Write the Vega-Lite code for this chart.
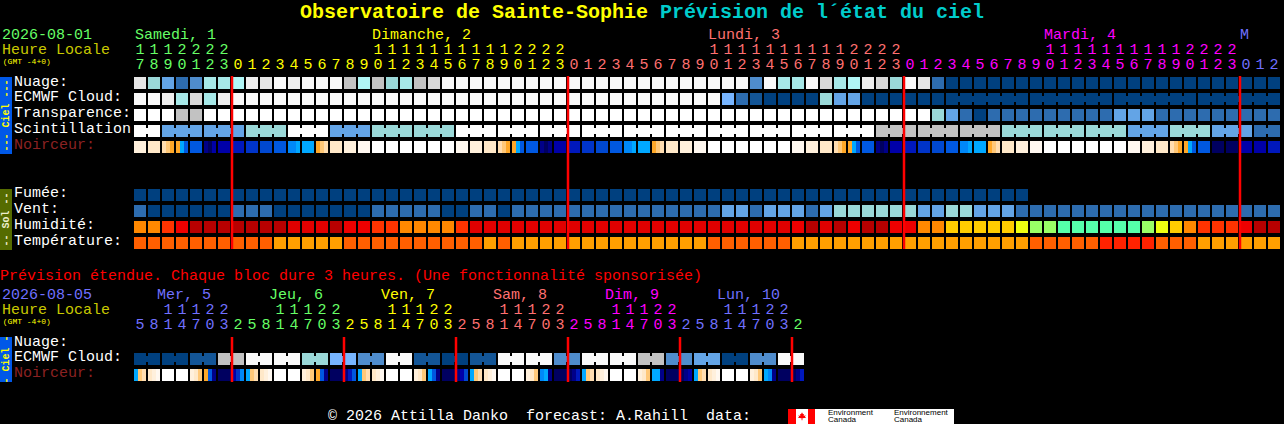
{"$schema":"https://vega.github.io/schema/vega-lite/v6.json","width":1284,"height":424,"autosize":{"type":"fit","contains":"padding"},"padding":0,"background":"#000000","view":{"stroke":null},"config":{"style":{"cell":{"stroke":null}}},
"datasets":{
"bands":[
{"col":-10,"colEnd":-9.143,"lane":-0.375,"laneEnd":4.4375,"lvl":"ciel"},
{"col":-10,"colEnd":-9.143,"lane":6.625,"laneEnd":10.4375,"lvl":"sol"},
{"col":-10,"colEnd":-9.143,"lane":15.875,"laneEnd":18.6875,"lvl":"ciel"},
{"col":46.286,"colEnd":58.143,"lane":20.375,"laneEnd":21.3125,"lvl":"n0"},
{"col":46.286,"colEnd":46.857,"lane":20.375,"laneEnd":21.3125,"lvl":"tE"},
{"col":47.714,"colEnd":48.214,"lane":20.375,"laneEnd":21.3125,"lvl":"tE"}],
"links":[
{"col":0,"colEnd":1,"lane":3,"lvl":"n0"},{"col":2,"colEnd":4,"lane":3,"lvl":"c9"},{"col":5,"colEnd":7,"lane":3,"lvl":"c9"},{"col":8,"colEnd":10,"lane":3,"lvl":"c7"},{"col":11,"colEnd":13,"lane":3,"lvl":"n0"},{"col":14,"colEnd":16,"lane":3,"lvl":"c9"},{"col":17,"colEnd":19,"lane":3,"lvl":"c7"},{"col":20,"colEnd":22,"lane":3,"lvl":"c7"},{"col":23,"colEnd":25,"lane":3,"lvl":"n0"},{"col":26,"colEnd":28,"lane":3,"lvl":"n0"},{"col":29,"colEnd":31,"lane":3,"lvl":"n0"},{"col":32,"colEnd":34,"lane":3,"lvl":"n0"},{"col":35,"colEnd":37,"lane":3,"lvl":"n0"},{"col":38,"colEnd":40,"lane":3,"lvl":"n0"},{"col":41,"colEnd":43,"lane":3,"lvl":"n0"},{"col":44,"colEnd":46,"lane":3,"lvl":"n0"},{"col":47,"colEnd":49,"lane":3,"lvl":"n0"},{"col":50,"colEnd":52,"lane":3,"lvl":"n0"},{"col":53,"colEnd":55,"lane":3,"lvl":"c4"},{"col":56,"colEnd":58,"lane":3,"lvl":"c4"},{"col":59,"colEnd":61,"lane":3,"lvl":"c4"},{"col":62,"colEnd":64,"lane":3,"lvl":"c7"},{"col":65,"colEnd":67,"lane":3,"lvl":"c7"},{"col":68,"colEnd":70,"lane":3,"lvl":"c7"},{"col":71,"colEnd":73,"lane":3,"lvl":"c9"},{"col":74,"colEnd":76,"lane":3,"lvl":"c7"},{"col":77,"colEnd":79,"lane":3,"lvl":"c9"},{"col":80,"colEnd":81,"lane":3,"lvl":"c11"},
{"col":58,"colEnd":63,"lane":1,"lvl":"c13"},{"col":64,"colEnd":69,"lane":1,"lvl":"c13"},{"col":70,"colEnd":75,"lane":1,"lvl":"c13"},{"col":76,"colEnd":81,"lane":1,"lvl":"c13"},
{"col":0,"colEnd":1,"lane":17.25,"lvl":"c13"},{"col":2,"colEnd":3,"lane":17.25,"lvl":"c13"},{"col":4,"colEnd":5,"lane":17.25,"lvl":"c12"},{"col":6,"colEnd":7,"lane":17.25,"lvl":"c4"},{"col":8,"colEnd":9,"lane":17.25,"lvl":"c0"},{"col":10,"colEnd":11,"lane":17.25,"lvl":"c0"},{"col":12,"colEnd":13,"lane":17.25,"lvl":"c7"},{"col":14,"colEnd":15,"lane":17.25,"lvl":"c8"},{"col":16,"colEnd":17,"lane":17.25,"lvl":"c10"},{"col":18,"colEnd":19,"lane":17.25,"lvl":"c0"},{"col":20,"colEnd":21,"lane":17.25,"lvl":"c12"},{"col":22,"colEnd":23,"lane":17.25,"lvl":"c13"},{"col":24,"colEnd":25,"lane":17.25,"lvl":"c12"},{"col":26,"colEnd":27,"lane":17.25,"lvl":"c0"},{"col":28,"colEnd":29,"lane":17.25,"lvl":"c0"},{"col":30,"colEnd":31,"lane":17.25,"lvl":"c10"},{"col":32,"colEnd":33,"lane":17.25,"lvl":"c0"},{"col":34,"colEnd":35,"lane":17.25,"lvl":"c0"},{"col":36,"colEnd":37,"lane":17.25,"lvl":"c4"},{"col":38,"colEnd":39,"lane":17.25,"lvl":"c10"},{"col":40,"colEnd":41,"lane":17.25,"lvl":"c9"},{"col":42,"colEnd":43,"lane":17.25,"lvl":"c13"},{"col":44,"colEnd":45,"lane":17.25,"lvl":"c10"},{"col":46,"colEnd":47,"lane":17.25,"lvl":"c0"}],
"cells":[
{"col":0,"lane":0,"lvl":"c2"},{"col":1,"lane":0,"lvl":"c7"},{"col":2,"lane":0,"lvl":"c9"},{"col":3,"lane":0,"lvl":"c11"},{"col":4,"lane":0,"lvl":"c10"},{"col":5,"lane":0,"lvl":"c6"},{"col":6,"lane":0,"lvl":"c6"},{"col":7,"lane":0,"lvl":"c5"},{"col":8,"lane":0,"lvl":"c1"},{"col":9,"lane":0,"lvl":"c2"},{"col":10,"lane":0,"lvl":"c0"},{"col":11,"lane":0,"lvl":"c1"},{"col":12,"lane":0,"lvl":"c0"},{"col":13,"lane":0,"lvl":"c0"},{"col":14,"lane":0,"lvl":"c0"},{"col":15,"lane":0,"lvl":"c4"},{"col":16,"lane":0,"lvl":"c5"},{"col":17,"lane":0,"lvl":"c4"},{"col":18,"lane":0,"lvl":"c7"},{"col":19,"lane":0,"lvl":"c6"},{"col":20,"lane":0,"lvl":"c4"},{"col":21,"lane":0,"lvl":"c3"},{"col":22,"lane":0,"lvl":"c0"},{"col":23,"lane":0,"lvl":"c0"},{"col":24,"lane":0,"lvl":"c0"},{"col":25,"lane":0,"lvl":"c0"},{"col":26,"lane":0,"lvl":"c0"},{"col":27,"lane":0,"lvl":"c0"},{"col":28,"lane":0,"lvl":"c0"},{"col":29,"lane":0,"lvl":"c0"},{"col":30,"lane":0,"lvl":"c0"},{"col":31,"lane":0,"lvl":"c0"},{"col":32,"lane":0,"lvl":"c0"},{"col":33,"lane":0,"lvl":"c0"},{"col":34,"lane":0,"lvl":"c0"},{"col":35,"lane":0,"lvl":"c0"},{"col":36,"lane":0,"lvl":"c0"},{"col":37,"lane":0,"lvl":"c0"},{"col":38,"lane":0,"lvl":"c0"},{"col":39,"lane":0,"lvl":"c0"},{"col":40,"lane":0,"lvl":"c0"},{"col":41,"lane":0,"lvl":"c0"},{"col":42,"lane":0,"lvl":"c0"},{"col":43,"lane":0,"lvl":"c0"},{"col":44,"lane":0,"lvl":"c10"},{"col":45,"lane":0,"lvl":"c0"},{"col":46,"lane":0,"lvl":"c6"},{"col":47,"lane":0,"lvl":"c6"},{"col":48,"lane":0,"lvl":"c0"},{"col":49,"lane":0,"lvl":"c3"},{"col":50,"lane":0,"lvl":"c6"},{"col":51,"lane":0,"lvl":"c5"},{"col":52,"lane":0,"lvl":"c1"},{"col":53,"lane":0,"lvl":"c3"},{"col":54,"lane":0,"lvl":"c7"},{"col":55,"lane":0,"lvl":"c0"},{"col":56,"lane":0,"lvl":"c2"},{"col":57,"lane":0,"lvl":"c11"},{"col":58,"lane":0,"lvl":"c13"},{"col":59,"lane":0,"lvl":"c13"},{"col":60,"lane":0,"lvl":"c13"},{"col":61,"lane":0,"lvl":"c13"},{"col":62,"lane":0,"lvl":"c13"},{"col":63,"lane":0,"lvl":"c13"},{"col":64,"lane":0,"lvl":"c13"},{"col":65,"lane":0,"lvl":"c13"},{"col":66,"lane":0,"lvl":"c13"},{"col":67,"lane":0,"lvl":"c13"},{"col":68,"lane":0,"lvl":"c13"},{"col":69,"lane":0,"lvl":"c13"},{"col":70,"lane":0,"lvl":"c13"},{"col":71,"lane":0,"lvl":"c13"},{"col":72,"lane":0,"lvl":"c13"},{"col":73,"lane":0,"lvl":"c13"},{"col":74,"lane":0,"lvl":"c13"},{"col":75,"lane":0,"lvl":"c13"},{"col":76,"lane":0,"lvl":"c13"},{"col":77,"lane":0,"lvl":"c13"},{"col":78,"lane":0,"lvl":"c13"},{"col":79,"lane":0,"lvl":"c13"},{"col":80,"lane":0,"lvl":"c13"},{"col":81,"lane":0,"lvl":"c13"},
{"col":0,"lane":1,"lvl":"c0"},{"col":1,"lane":1,"lvl":"c0"},{"col":2,"lane":1,"lvl":"c1"},{"col":3,"lane":1,"lvl":"c6"},{"col":4,"lane":1,"lvl":"c3"},{"col":5,"lane":1,"lvl":"c6"},{"col":6,"lane":1,"lvl":"c1"},{"col":7,"lane":1,"lvl":"c0"},{"col":8,"lane":1,"lvl":"c0"},{"col":9,"lane":1,"lvl":"c0"},{"col":10,"lane":1,"lvl":"c0"},{"col":11,"lane":1,"lvl":"c0"},{"col":12,"lane":1,"lvl":"c0"},{"col":13,"lane":1,"lvl":"c0"},{"col":14,"lane":1,"lvl":"c0"},{"col":15,"lane":1,"lvl":"c0"},{"col":16,"lane":1,"lvl":"c0"},{"col":17,"lane":1,"lvl":"c0"},{"col":18,"lane":1,"lvl":"c0"},{"col":19,"lane":1,"lvl":"c0"},{"col":20,"lane":1,"lvl":"c0"},{"col":21,"lane":1,"lvl":"c0"},{"col":22,"lane":1,"lvl":"c0"},{"col":23,"lane":1,"lvl":"c0"},{"col":24,"lane":1,"lvl":"c0"},{"col":25,"lane":1,"lvl":"c0"},{"col":26,"lane":1,"lvl":"c0"},{"col":27,"lane":1,"lvl":"c0"},{"col":28,"lane":1,"lvl":"c0"},{"col":29,"lane":1,"lvl":"c0"},{"col":30,"lane":1,"lvl":"c0"},{"col":31,"lane":1,"lvl":"c0"},{"col":32,"lane":1,"lvl":"c0"},{"col":33,"lane":1,"lvl":"c0"},{"col":34,"lane":1,"lvl":"c0"},{"col":35,"lane":1,"lvl":"c0"},{"col":36,"lane":1,"lvl":"c0"},{"col":37,"lane":1,"lvl":"c0"},{"col":38,"lane":1,"lvl":"c0"},{"col":39,"lane":1,"lvl":"c0"},{"col":40,"lane":1,"lvl":"c0"},{"col":41,"lane":1,"lvl":"c0"},{"col":42,"lane":1,"lvl":"c8"},{"col":43,"lane":1,"lvl":"c11"},{"col":44,"lane":1,"lvl":"c12"},{"col":45,"lane":1,"lvl":"c13"},{"col":46,"lane":1,"lvl":"c13"},{"col":47,"lane":1,"lvl":"c13"},{"col":48,"lane":1,"lvl":"c13"},{"col":49,"lane":1,"lvl":"c7"},{"col":50,"lane":1,"lvl":"c9"},{"col":51,"lane":1,"lvl":"c9"},{"col":52,"lane":1,"lvl":"c13"},{"col":53,"lane":1,"lvl":"c13"},{"col":54,"lane":1,"lvl":"c13"},{"col":55,"lane":1,"lvl":"c13"},{"col":56,"lane":1,"lvl":"c13"},{"col":57,"lane":1,"lvl":"c13"},{"col":58,"lane":1,"lvl":"c13"},{"col":59,"lane":1,"lvl":"c13"},{"col":60,"lane":1,"lvl":"c13"},{"col":61,"lane":1,"lvl":"c13"},{"col":62,"lane":1,"lvl":"c13"},{"col":63,"lane":1,"lvl":"c13"},{"col":64,"lane":1,"lvl":"c13"},{"col":65,"lane":1,"lvl":"c13"},{"col":66,"lane":1,"lvl":"c13"},{"col":67,"lane":1,"lvl":"c13"},{"col":68,"lane":1,"lvl":"c13"},{"col":69,"lane":1,"lvl":"c13"},{"col":70,"lane":1,"lvl":"c13"},{"col":71,"lane":1,"lvl":"c13"},{"col":72,"lane":1,"lvl":"c13"},{"col":73,"lane":1,"lvl":"c13"},{"col":74,"lane":1,"lvl":"c13"},{"col":75,"lane":1,"lvl":"c13"},{"col":76,"lane":1,"lvl":"c13"},{"col":77,"lane":1,"lvl":"c13"},{"col":78,"lane":1,"lvl":"c13"},{"col":79,"lane":1,"lvl":"c13"},{"col":80,"lane":1,"lvl":"c13"},{"col":81,"lane":1,"lvl":"c13"},
{"col":0,"lane":2,"lvl":"n0"},{"col":1,"lane":2,"lvl":"n0"},{"col":2,"lane":2,"lvl":"n0"},{"col":3,"lane":2,"lvl":"c4"},{"col":4,"lane":2,"lvl":"c4"},{"col":5,"lane":2,"lvl":"n0"},{"col":6,"lane":2,"lvl":"n0"},{"col":7,"lane":2,"lvl":"n0"},{"col":8,"lane":2,"lvl":"n0"},{"col":9,"lane":2,"lvl":"n0"},{"col":10,"lane":2,"lvl":"n0"},{"col":11,"lane":2,"lvl":"n0"},{"col":12,"lane":2,"lvl":"n0"},{"col":13,"lane":2,"lvl":"n0"},{"col":14,"lane":2,"lvl":"n0"},{"col":15,"lane":2,"lvl":"n0"},{"col":16,"lane":2,"lvl":"n0"},{"col":17,"lane":2,"lvl":"n0"},{"col":18,"lane":2,"lvl":"n0"},{"col":19,"lane":2,"lvl":"n0"},{"col":20,"lane":2,"lvl":"n0"},{"col":21,"lane":2,"lvl":"n0"},{"col":22,"lane":2,"lvl":"n0"},{"col":23,"lane":2,"lvl":"n0"},{"col":24,"lane":2,"lvl":"n0"},{"col":25,"lane":2,"lvl":"n0"},{"col":26,"lane":2,"lvl":"n0"},{"col":27,"lane":2,"lvl":"n0"},{"col":28,"lane":2,"lvl":"n0"},{"col":29,"lane":2,"lvl":"n0"},{"col":30,"lane":2,"lvl":"n0"},{"col":31,"lane":2,"lvl":"n0"},{"col":32,"lane":2,"lvl":"n0"},{"col":33,"lane":2,"lvl":"n0"},{"col":34,"lane":2,"lvl":"n0"},{"col":35,"lane":2,"lvl":"n0"},{"col":36,"lane":2,"lvl":"n0"},{"col":37,"lane":2,"lvl":"n0"},{"col":38,"lane":2,"lvl":"n0"},{"col":39,"lane":2,"lvl":"n0"},{"col":40,"lane":2,"lvl":"n0"},{"col":41,"lane":2,"lvl":"n0"},{"col":42,"lane":2,"lvl":"n0"},{"col":43,"lane":2,"lvl":"n0"},{"col":44,"lane":2,"lvl":"n0"},{"col":45,"lane":2,"lvl":"n0"},{"col":46,"lane":2,"lvl":"n0"},{"col":47,"lane":2,"lvl":"n0"},{"col":48,"lane":2,"lvl":"n0"},{"col":49,"lane":2,"lvl":"n0"},{"col":50,"lane":2,"lvl":"n0"},{"col":51,"lane":2,"lvl":"n0"},{"col":52,"lane":2,"lvl":"n0"},{"col":53,"lane":2,"lvl":"n0"},{"col":54,"lane":2,"lvl":"n0"},{"col":55,"lane":2,"lvl":"n0"},{"col":56,"lane":2,"lvl":"n0"},{"col":57,"lane":2,"lvl":"c7"},{"col":58,"lane":2,"lvl":"c9"},{"col":59,"lane":2,"lvl":"c11"},{"col":60,"lane":2,"lvl":"c13"},{"col":61,"lane":2,"lvl":"c11"},{"col":62,"lane":2,"lvl":"c11"},{"col":63,"lane":2,"lvl":"c11"},{"col":64,"lane":2,"lvl":"c11"},{"col":65,"lane":2,"lvl":"c11"},{"col":66,"lane":2,"lvl":"c11"},{"col":67,"lane":2,"lvl":"c11"},{"col":68,"lane":2,"lvl":"c11"},{"col":69,"lane":2,"lvl":"c11"},{"col":70,"lane":2,"lvl":"c9"},{"col":71,"lane":2,"lvl":"c9"},{"col":72,"lane":2,"lvl":"c9"},{"col":73,"lane":2,"lvl":"c11"},{"col":74,"lane":2,"lvl":"c11"},{"col":75,"lane":2,"lvl":"c11"},{"col":76,"lane":2,"lvl":"c11"},{"col":77,"lane":2,"lvl":"c11"},{"col":78,"lane":2,"lvl":"c11"},{"col":79,"lane":2,"lvl":"c11"},{"col":80,"lane":2,"lvl":"c11"},{"col":81,"lane":2,"lvl":"c11"},
{"col":0,"lane":3,"lvl":"n0"},{"col":1,"lane":3,"lvl":"n0"},{"col":2,"lane":3,"lvl":"c9"},{"col":3,"lane":3,"lvl":"c9"},{"col":4,"lane":3,"lvl":"c9"},{"col":5,"lane":3,"lvl":"c9"},{"col":6,"lane":3,"lvl":"c9"},{"col":7,"lane":3,"lvl":"c9"},{"col":8,"lane":3,"lvl":"c7"},{"col":9,"lane":3,"lvl":"c7"},{"col":10,"lane":3,"lvl":"c7"},{"col":11,"lane":3,"lvl":"n0"},{"col":12,"lane":3,"lvl":"n0"},{"col":13,"lane":3,"lvl":"n0"},{"col":14,"lane":3,"lvl":"c9"},{"col":15,"lane":3,"lvl":"c9"},{"col":16,"lane":3,"lvl":"c9"},{"col":17,"lane":3,"lvl":"c7"},{"col":18,"lane":3,"lvl":"c7"},{"col":19,"lane":3,"lvl":"c7"},{"col":20,"lane":3,"lvl":"c7"},{"col":21,"lane":3,"lvl":"c7"},{"col":22,"lane":3,"lvl":"c7"},{"col":23,"lane":3,"lvl":"n0"},{"col":24,"lane":3,"lvl":"n0"},{"col":25,"lane":3,"lvl":"n0"},{"col":26,"lane":3,"lvl":"n0"},{"col":27,"lane":3,"lvl":"n0"},{"col":28,"lane":3,"lvl":"n0"},{"col":29,"lane":3,"lvl":"n0"},{"col":30,"lane":3,"lvl":"n0"},{"col":31,"lane":3,"lvl":"n0"},{"col":32,"lane":3,"lvl":"n0"},{"col":33,"lane":3,"lvl":"n0"},{"col":34,"lane":3,"lvl":"n0"},{"col":35,"lane":3,"lvl":"n0"},{"col":36,"lane":3,"lvl":"n0"},{"col":37,"lane":3,"lvl":"n0"},{"col":38,"lane":3,"lvl":"n0"},{"col":39,"lane":3,"lvl":"n0"},{"col":40,"lane":3,"lvl":"n0"},{"col":41,"lane":3,"lvl":"n0"},{"col":42,"lane":3,"lvl":"n0"},{"col":43,"lane":3,"lvl":"n0"},{"col":44,"lane":3,"lvl":"n0"},{"col":45,"lane":3,"lvl":"n0"},{"col":46,"lane":3,"lvl":"n0"},{"col":47,"lane":3,"lvl":"n0"},{"col":48,"lane":3,"lvl":"n0"},{"col":49,"lane":3,"lvl":"n0"},{"col":50,"lane":3,"lvl":"n0"},{"col":51,"lane":3,"lvl":"n0"},{"col":52,"lane":3,"lvl":"n0"},{"col":53,"lane":3,"lvl":"c4"},{"col":54,"lane":3,"lvl":"c4"},{"col":55,"lane":3,"lvl":"c4"},{"col":56,"lane":3,"lvl":"c4"},{"col":57,"lane":3,"lvl":"c4"},{"col":58,"lane":3,"lvl":"c4"},{"col":59,"lane":3,"lvl":"c4"},{"col":60,"lane":3,"lvl":"c4"},{"col":61,"lane":3,"lvl":"c4"},{"col":62,"lane":3,"lvl":"c7"},{"col":63,"lane":3,"lvl":"c7"},{"col":64,"lane":3,"lvl":"c7"},{"col":65,"lane":3,"lvl":"c7"},{"col":66,"lane":3,"lvl":"c7"},{"col":67,"lane":3,"lvl":"c7"},{"col":68,"lane":3,"lvl":"c7"},{"col":69,"lane":3,"lvl":"c7"},{"col":70,"lane":3,"lvl":"c7"},{"col":71,"lane":3,"lvl":"c9"},{"col":72,"lane":3,"lvl":"c9"},{"col":73,"lane":3,"lvl":"c9"},{"col":74,"lane":3,"lvl":"c7"},{"col":75,"lane":3,"lvl":"c7"},{"col":76,"lane":3,"lvl":"c7"},{"col":77,"lane":3,"lvl":"c9"},{"col":78,"lane":3,"lvl":"c9"},{"col":79,"lane":3,"lvl":"c9"},{"col":80,"lane":3,"lvl":"c11"},{"col":81,"lane":3,"lvl":"c11"},
{"col":0,"lane":4,"lvl":"n2"},{"col":1,"lane":4,"lvl":"n3"},{"col":4,"lane":4,"lvl":"n10"},{"col":6,"lane":4,"lvl":"n14"},{"col":7,"lane":4,"lvl":"n13"},{"col":8,"lane":4,"lvl":"n12"},{"col":9,"lane":4,"lvl":"n11"},{"col":10,"lane":4,"lvl":"n10"},{"col":12,"lane":4,"lvl":"n8"},{"col":14,"lane":4,"lvl":"n3"},{"col":15,"lane":4,"lvl":"n2"},{"col":16,"lane":4,"lvl":"n1"},{"col":17,"lane":4,"lvl":"n0"},{"col":18,"lane":4,"lvl":"n0"},{"col":19,"lane":4,"lvl":"n0"},{"col":20,"lane":4,"lvl":"n0"},{"col":21,"lane":4,"lvl":"n0"},{"col":22,"lane":4,"lvl":"n0"},{"col":23,"lane":4,"lvl":"n1"},{"col":24,"lane":4,"lvl":"n2"},{"col":25,"lane":4,"lvl":"n3"},{"col":28,"lane":4,"lvl":"n10"},{"col":30,"lane":4,"lvl":"n14"},{"col":31,"lane":4,"lvl":"n13"},{"col":32,"lane":4,"lvl":"n12"},{"col":33,"lane":4,"lvl":"n11"},{"col":34,"lane":4,"lvl":"n10"},{"col":36,"lane":4,"lvl":"n8"},{"col":38,"lane":4,"lvl":"n3"},{"col":39,"lane":4,"lvl":"n2"},{"col":40,"lane":4,"lvl":"n1"},{"col":41,"lane":4,"lvl":"n0"},{"col":42,"lane":4,"lvl":"n0"},{"col":43,"lane":4,"lvl":"n0"},{"col":44,"lane":4,"lvl":"n0"},{"col":45,"lane":4,"lvl":"n0"},{"col":46,"lane":4,"lvl":"n0"},{"col":47,"lane":4,"lvl":"n1"},{"col":48,"lane":4,"lvl":"n2"},{"col":49,"lane":4,"lvl":"n3"},{"col":52,"lane":4,"lvl":"n10"},{"col":54,"lane":4,"lvl":"n14"},{"col":55,"lane":4,"lvl":"n13"},{"col":56,"lane":4,"lvl":"n12"},{"col":57,"lane":4,"lvl":"n11"},{"col":58,"lane":4,"lvl":"n10"},{"col":60,"lane":4,"lvl":"n8"},{"col":62,"lane":4,"lvl":"n3"},{"col":63,"lane":4,"lvl":"n2"},{"col":64,"lane":4,"lvl":"n1"},{"col":65,"lane":4,"lvl":"n0"},{"col":66,"lane":4,"lvl":"n0"},{"col":67,"lane":4,"lvl":"n0"},{"col":68,"lane":4,"lvl":"n0"},{"col":69,"lane":4,"lvl":"n0"},{"col":70,"lane":4,"lvl":"n0"},{"col":71,"lane":4,"lvl":"n1"},{"col":72,"lane":4,"lvl":"n2"},{"col":73,"lane":4,"lvl":"n3"},{"col":76,"lane":4,"lvl":"n10"},{"col":77,"lane":4,"lvl":"n16"},{"col":78,"lane":4,"lvl":"n16"},{"col":79,"lane":4,"lvl":"n14"},{"col":80,"lane":4,"lvl":"n14"},{"col":81,"lane":4,"lvl":"n13"},
{"col":0,"lane":7,"lvl":"c13"},{"col":1,"lane":7,"lvl":"c13"},{"col":2,"lane":7,"lvl":"c13"},{"col":3,"lane":7,"lvl":"c13"},{"col":4,"lane":7,"lvl":"c13"},{"col":5,"lane":7,"lvl":"c13"},{"col":6,"lane":7,"lvl":"c13"},{"col":7,"lane":7,"lvl":"c13"},{"col":8,"lane":7,"lvl":"c13"},{"col":9,"lane":7,"lvl":"c13"},{"col":10,"lane":7,"lvl":"c13"},{"col":11,"lane":7,"lvl":"c13"},{"col":12,"lane":7,"lvl":"c13"},{"col":13,"lane":7,"lvl":"c13"},{"col":14,"lane":7,"lvl":"c13"},{"col":15,"lane":7,"lvl":"c13"},{"col":16,"lane":7,"lvl":"c13"},{"col":17,"lane":7,"lvl":"c13"},{"col":18,"lane":7,"lvl":"c13"},{"col":19,"lane":7,"lvl":"c13"},{"col":20,"lane":7,"lvl":"c13"},{"col":21,"lane":7,"lvl":"c13"},{"col":22,"lane":7,"lvl":"c13"},{"col":23,"lane":7,"lvl":"c13"},{"col":24,"lane":7,"lvl":"c13"},{"col":25,"lane":7,"lvl":"c13"},{"col":26,"lane":7,"lvl":"c13"},{"col":27,"lane":7,"lvl":"c13"},{"col":28,"lane":7,"lvl":"c13"},{"col":29,"lane":7,"lvl":"c13"},{"col":30,"lane":7,"lvl":"c13"},{"col":31,"lane":7,"lvl":"c13"},{"col":32,"lane":7,"lvl":"c13"},{"col":33,"lane":7,"lvl":"c13"},{"col":34,"lane":7,"lvl":"c13"},{"col":35,"lane":7,"lvl":"c13"},{"col":36,"lane":7,"lvl":"c13"},{"col":37,"lane":7,"lvl":"c13"},{"col":38,"lane":7,"lvl":"c13"},{"col":39,"lane":7,"lvl":"c13"},{"col":40,"lane":7,"lvl":"c13"},{"col":41,"lane":7,"lvl":"c13"},{"col":42,"lane":7,"lvl":"c13"},{"col":43,"lane":7,"lvl":"c13"},{"col":44,"lane":7,"lvl":"c13"},{"col":45,"lane":7,"lvl":"c13"},{"col":46,"lane":7,"lvl":"c13"},{"col":47,"lane":7,"lvl":"c13"},{"col":48,"lane":7,"lvl":"c13"},{"col":49,"lane":7,"lvl":"c13"},{"col":50,"lane":7,"lvl":"c13"},{"col":51,"lane":7,"lvl":"c13"},{"col":52,"lane":7,"lvl":"c13"},{"col":53,"lane":7,"lvl":"c13"},{"col":54,"lane":7,"lvl":"c13"},{"col":55,"lane":7,"lvl":"c13"},{"col":56,"lane":7,"lvl":"c13"},{"col":57,"lane":7,"lvl":"c13"},{"col":58,"lane":7,"lvl":"c13"},{"col":59,"lane":7,"lvl":"c13"},{"col":60,"lane":7,"lvl":"c13"},{"col":61,"lane":7,"lvl":"c13"},{"col":62,"lane":7,"lvl":"c13"},{"col":63,"lane":7,"lvl":"c13"},
{"col":0,"lane":8,"lvl":"c11"},{"col":1,"lane":8,"lvl":"c13"},{"col":2,"lane":8,"lvl":"c13"},{"col":3,"lane":8,"lvl":"c13"},{"col":4,"lane":8,"lvl":"c13"},{"col":5,"lane":8,"lvl":"c13"},{"col":6,"lane":8,"lvl":"c13"},{"col":7,"lane":8,"lvl":"c11"},{"col":8,"lane":8,"lvl":"c11"},{"col":9,"lane":8,"lvl":"c11"},{"col":10,"lane":8,"lvl":"c13"},{"col":11,"lane":8,"lvl":"c13"},{"col":12,"lane":8,"lvl":"c13"},{"col":13,"lane":8,"lvl":"c13"},{"col":14,"lane":8,"lvl":"c13"},{"col":15,"lane":8,"lvl":"c13"},{"col":16,"lane":8,"lvl":"c13"},{"col":17,"lane":8,"lvl":"c11"},{"col":18,"lane":8,"lvl":"c11"},{"col":19,"lane":8,"lvl":"c11"},{"col":20,"lane":8,"lvl":"c11"},{"col":21,"lane":8,"lvl":"c11"},{"col":22,"lane":8,"lvl":"c13"},{"col":23,"lane":8,"lvl":"c13"},{"col":24,"lane":8,"lvl":"c11"},{"col":25,"lane":8,"lvl":"c11"},{"col":26,"lane":8,"lvl":"c13"},{"col":27,"lane":8,"lvl":"c11"},{"col":28,"lane":8,"lvl":"c11"},{"col":29,"lane":8,"lvl":"c11"},{"col":30,"lane":8,"lvl":"c11"},{"col":31,"lane":8,"lvl":"c11"},{"col":32,"lane":8,"lvl":"c11"},{"col":33,"lane":8,"lvl":"c11"},{"col":34,"lane":8,"lvl":"c11"},{"col":35,"lane":8,"lvl":"c11"},{"col":36,"lane":8,"lvl":"c11"},{"col":37,"lane":8,"lvl":"c11"},{"col":38,"lane":8,"lvl":"c11"},{"col":39,"lane":8,"lvl":"c11"},{"col":40,"lane":8,"lvl":"c11"},{"col":41,"lane":8,"lvl":"c11"},{"col":42,"lane":8,"lvl":"c9"},{"col":43,"lane":8,"lvl":"c9"},{"col":44,"lane":8,"lvl":"c11"},{"col":45,"lane":8,"lvl":"c9"},{"col":46,"lane":8,"lvl":"c9"},{"col":47,"lane":8,"lvl":"c9"},{"col":48,"lane":8,"lvl":"c11"},{"col":49,"lane":8,"lvl":"c9"},{"col":50,"lane":8,"lvl":"c7"},{"col":51,"lane":8,"lvl":"c7"},{"col":52,"lane":8,"lvl":"c7"},{"col":53,"lane":8,"lvl":"c7"},{"col":54,"lane":8,"lvl":"c7"},{"col":55,"lane":8,"lvl":"c7"},{"col":56,"lane":8,"lvl":"c9"},{"col":57,"lane":8,"lvl":"c9"},{"col":58,"lane":8,"lvl":"c7"},{"col":59,"lane":8,"lvl":"c7"},{"col":60,"lane":8,"lvl":"c9"},{"col":61,"lane":8,"lvl":"c9"},{"col":62,"lane":8,"lvl":"c9"},{"col":63,"lane":8,"lvl":"c11"},{"col":64,"lane":8,"lvl":"c11"},{"col":65,"lane":8,"lvl":"c11"},{"col":66,"lane":8,"lvl":"c11"},{"col":67,"lane":8,"lvl":"c11"},{"col":68,"lane":8,"lvl":"c11"},{"col":69,"lane":8,"lvl":"c11"},{"col":70,"lane":8,"lvl":"c11"},{"col":71,"lane":8,"lvl":"c11"},{"col":72,"lane":8,"lvl":"c11"},{"col":73,"lane":8,"lvl":"c11"},{"col":74,"lane":8,"lvl":"c11"},{"col":75,"lane":8,"lvl":"c11"},{"col":76,"lane":8,"lvl":"c11"},{"col":77,"lane":8,"lvl":"c11"},{"col":78,"lane":8,"lvl":"c11"},{"col":79,"lane":8,"lvl":"c11"},{"col":80,"lane":8,"lvl":"c11"},{"col":81,"lane":8,"lvl":"c11"},
{"col":0,"lane":9,"lvl":"h1"},{"col":1,"lane":9,"lvl":"h1"},{"col":2,"lane":9,"lvl":"h2"},{"col":3,"lane":9,"lvl":"h3"},{"col":4,"lane":9,"lvl":"h5"},{"col":5,"lane":9,"lvl":"h5"},{"col":6,"lane":9,"lvl":"h5"},{"col":7,"lane":9,"lvl":"h5"},{"col":8,"lane":9,"lvl":"h5"},{"col":9,"lane":9,"lvl":"h5"},{"col":10,"lane":9,"lvl":"h5"},{"col":11,"lane":9,"lvl":"h4"},{"col":12,"lane":9,"lvl":"h4"},{"col":13,"lane":9,"lvl":"h4"},{"col":14,"lane":9,"lvl":"h5"},{"col":15,"lane":9,"lvl":"h3"},{"col":16,"lane":9,"lvl":"h3"},{"col":17,"lane":9,"lvl":"h2"},{"col":18,"lane":9,"lvl":"h2"},{"col":19,"lane":9,"lvl":"h1"},{"col":20,"lane":9,"lvl":"h1"},{"col":21,"lane":9,"lvl":"h1"},{"col":22,"lane":9,"lvl":"h1"},{"col":23,"lane":9,"lvl":"h2"},{"col":24,"lane":9,"lvl":"h4"},{"col":25,"lane":9,"lvl":"h4"},{"col":26,"lane":9,"lvl":"h4"},{"col":27,"lane":9,"lvl":"h4"},{"col":28,"lane":9,"lvl":"h4"},{"col":29,"lane":9,"lvl":"h4"},{"col":30,"lane":9,"lvl":"h4"},{"col":31,"lane":9,"lvl":"h4"},{"col":32,"lane":9,"lvl":"h4"},{"col":33,"lane":9,"lvl":"h4"},{"col":34,"lane":9,"lvl":"h4"},{"col":35,"lane":9,"lvl":"h4"},{"col":36,"lane":9,"lvl":"h4"},{"col":37,"lane":9,"lvl":"h4"},{"col":38,"lane":9,"lvl":"h4"},{"col":39,"lane":9,"lvl":"h4"},{"col":40,"lane":9,"lvl":"h4"},{"col":41,"lane":9,"lvl":"h4"},{"col":42,"lane":9,"lvl":"h4"},{"col":43,"lane":9,"lvl":"h4"},{"col":44,"lane":9,"lvl":"h4"},{"col":45,"lane":9,"lvl":"h4"},{"col":46,"lane":9,"lvl":"h4"},{"col":47,"lane":9,"lvl":"h3"},{"col":48,"lane":9,"lvl":"h5"},{"col":49,"lane":9,"lvl":"h4"},{"col":50,"lane":9,"lvl":"h5"},{"col":51,"lane":9,"lvl":"h3"},{"col":52,"lane":9,"lvl":"h5"},{"col":53,"lane":9,"lvl":"h5"},{"col":54,"lane":9,"lvl":"h3"},{"col":55,"lane":9,"lvl":"h3"},{"col":56,"lane":9,"lvl":"h1"},{"col":57,"lane":9,"lvl":"h1"},{"col":58,"lane":9,"lvl":"h6"},{"col":59,"lane":9,"lvl":"h6"},{"col":60,"lane":9,"lvl":"h6"},{"col":61,"lane":9,"lvl":"h6"},{"col":62,"lane":9,"lvl":"h6"},{"col":63,"lane":9,"lvl":"h7"},{"col":64,"lane":9,"lvl":"h8"},{"col":65,"lane":9,"lvl":"h8"},{"col":66,"lane":9,"lvl":"h9"},{"col":67,"lane":9,"lvl":"h9"},{"col":68,"lane":9,"lvl":"h9"},{"col":69,"lane":9,"lvl":"h9"},{"col":70,"lane":9,"lvl":"h9"},{"col":71,"lane":9,"lvl":"h9"},{"col":72,"lane":9,"lvl":"h8"},{"col":73,"lane":9,"lvl":"h7"},{"col":74,"lane":9,"lvl":"h6"},{"col":75,"lane":9,"lvl":"h1"},{"col":76,"lane":9,"lvl":"h2"},{"col":77,"lane":9,"lvl":"h2"},{"col":78,"lane":9,"lvl":"h2"},{"col":79,"lane":9,"lvl":"h3"},{"col":80,"lane":9,"lvl":"h5"},{"col":81,"lane":9,"lvl":"h5"},
{"col":0,"lane":10,"lvl":"p1"},{"col":1,"lane":10,"lvl":"p1"},{"col":2,"lane":10,"lvl":"p1"},{"col":3,"lane":10,"lvl":"p1"},{"col":4,"lane":10,"lvl":"p1"},{"col":5,"lane":10,"lvl":"p1"},{"col":6,"lane":10,"lvl":"p1"},{"col":7,"lane":10,"lvl":"p1"},{"col":8,"lane":10,"lvl":"p1"},{"col":9,"lane":10,"lvl":"p1"},{"col":10,"lane":10,"lvl":"p2"},{"col":11,"lane":10,"lvl":"p2"},{"col":12,"lane":10,"lvl":"p2"},{"col":13,"lane":10,"lvl":"p2"},{"col":14,"lane":10,"lvl":"p2"},{"col":15,"lane":10,"lvl":"p1"},{"col":16,"lane":10,"lvl":"p1"},{"col":17,"lane":10,"lvl":"p1"},{"col":18,"lane":10,"lvl":"p1"},{"col":19,"lane":10,"lvl":"p1"},{"col":20,"lane":10,"lvl":"p1"},{"col":21,"lane":10,"lvl":"p1"},{"col":22,"lane":10,"lvl":"p1"},{"col":23,"lane":10,"lvl":"p1"},{"col":24,"lane":10,"lvl":"p1"},{"col":25,"lane":10,"lvl":"p2"},{"col":26,"lane":10,"lvl":"p1"},{"col":27,"lane":10,"lvl":"p2"},{"col":28,"lane":10,"lvl":"p2"},{"col":29,"lane":10,"lvl":"p2"},{"col":30,"lane":10,"lvl":"p2"},{"col":31,"lane":10,"lvl":"p2"},{"col":32,"lane":10,"lvl":"p2"},{"col":33,"lane":10,"lvl":"p2"},{"col":34,"lane":10,"lvl":"p2"},{"col":35,"lane":10,"lvl":"p2"},{"col":36,"lane":10,"lvl":"p2"},{"col":37,"lane":10,"lvl":"p2"},{"col":38,"lane":10,"lvl":"p2"},{"col":39,"lane":10,"lvl":"p2"},{"col":40,"lane":10,"lvl":"p2"},{"col":41,"lane":10,"lvl":"p1"},{"col":42,"lane":10,"lvl":"p1"},{"col":43,"lane":10,"lvl":"p1"},{"col":44,"lane":10,"lvl":"p1"},{"col":45,"lane":10,"lvl":"p1"},{"col":46,"lane":10,"lvl":"p1"},{"col":47,"lane":10,"lvl":"p2"},{"col":48,"lane":10,"lvl":"p2"},{"col":49,"lane":10,"lvl":"p2"},{"col":50,"lane":10,"lvl":"p2"},{"col":51,"lane":10,"lvl":"p2"},{"col":52,"lane":10,"lvl":"p2"},{"col":53,"lane":10,"lvl":"p2"},{"col":54,"lane":10,"lvl":"p2"},{"col":55,"lane":10,"lvl":"p2"},{"col":56,"lane":10,"lvl":"p2"},{"col":57,"lane":10,"lvl":"p2"},{"col":58,"lane":10,"lvl":"p2"},{"col":59,"lane":10,"lvl":"p2"},{"col":60,"lane":10,"lvl":"p2"},{"col":61,"lane":10,"lvl":"p2"},{"col":62,"lane":10,"lvl":"p2"},{"col":63,"lane":10,"lvl":"p2"},{"col":64,"lane":10,"lvl":"p1"},{"col":65,"lane":10,"lvl":"p1"},{"col":66,"lane":10,"lvl":"p1"},{"col":67,"lane":10,"lvl":"p1"},{"col":68,"lane":10,"lvl":"p1"},{"col":69,"lane":10,"lvl":"p3"},{"col":70,"lane":10,"lvl":"p3"},{"col":71,"lane":10,"lvl":"p3"},{"col":72,"lane":10,"lvl":"p3"},{"col":73,"lane":10,"lvl":"p1"},{"col":74,"lane":10,"lvl":"p1"},{"col":75,"lane":10,"lvl":"p1"},{"col":76,"lane":10,"lvl":"p2"},{"col":77,"lane":10,"lvl":"p2"},{"col":78,"lane":10,"lvl":"p2"},{"col":79,"lane":10,"lvl":"p2"},{"col":80,"lane":10,"lvl":"p2"},{"col":81,"lane":10,"lvl":"p2"},
{"col":0,"lane":17.25,"lvl":"c13"},{"col":1,"lane":17.25,"lvl":"c13"},{"col":2,"lane":17.25,"lvl":"c13"},{"col":3,"lane":17.25,"lvl":"c13"},{"col":4,"lane":17.25,"lvl":"c12"},{"col":5,"lane":17.25,"lvl":"c12"},{"col":6,"lane":17.25,"lvl":"c4"},{"col":7,"lane":17.25,"lvl":"c4"},{"col":8,"lane":17.25,"lvl":"c0"},{"col":9,"lane":17.25,"lvl":"c0"},{"col":10,"lane":17.25,"lvl":"c0"},{"col":11,"lane":17.25,"lvl":"c0"},{"col":12,"lane":17.25,"lvl":"c7"},{"col":13,"lane":17.25,"lvl":"c7"},{"col":14,"lane":17.25,"lvl":"c8"},{"col":15,"lane":17.25,"lvl":"c8"},{"col":16,"lane":17.25,"lvl":"c10"},{"col":17,"lane":17.25,"lvl":"c10"},{"col":18,"lane":17.25,"lvl":"c0"},{"col":19,"lane":17.25,"lvl":"c0"},{"col":20,"lane":17.25,"lvl":"c12"},{"col":21,"lane":17.25,"lvl":"c12"},{"col":22,"lane":17.25,"lvl":"c13"},{"col":23,"lane":17.25,"lvl":"c13"},{"col":24,"lane":17.25,"lvl":"c12"},{"col":25,"lane":17.25,"lvl":"c12"},{"col":26,"lane":17.25,"lvl":"c0"},{"col":27,"lane":17.25,"lvl":"c0"},{"col":28,"lane":17.25,"lvl":"c0"},{"col":29,"lane":17.25,"lvl":"c0"},{"col":30,"lane":17.25,"lvl":"c10"},{"col":31,"lane":17.25,"lvl":"c10"},{"col":32,"lane":17.25,"lvl":"c0"},{"col":33,"lane":17.25,"lvl":"c0"},{"col":34,"lane":17.25,"lvl":"c0"},{"col":35,"lane":17.25,"lvl":"c0"},{"col":36,"lane":17.25,"lvl":"c4"},{"col":37,"lane":17.25,"lvl":"c4"},{"col":38,"lane":17.25,"lvl":"c10"},{"col":39,"lane":17.25,"lvl":"c10"},{"col":40,"lane":17.25,"lvl":"c9"},{"col":41,"lane":17.25,"lvl":"c9"},{"col":42,"lane":17.25,"lvl":"c13"},{"col":43,"lane":17.25,"lvl":"c13"},{"col":44,"lane":17.25,"lvl":"c10"},{"col":45,"lane":17.25,"lvl":"c10"},{"col":46,"lane":17.25,"lvl":"c0"},{"col":47,"lane":17.25,"lvl":"c0"},
{"col":2,"lane":18.25,"lvl":"n0"},{"col":3,"lane":18.25,"lvl":"n0"},{"col":6,"lane":18.25,"lvl":"n16"},{"col":10,"lane":18.25,"lvl":"n0"},{"col":11,"lane":18.25,"lvl":"n0"},{"col":14,"lane":18.25,"lvl":"n16"},{"col":18,"lane":18.25,"lvl":"n0"},{"col":19,"lane":18.25,"lvl":"n0"},{"col":22,"lane":18.25,"lvl":"n16"},{"col":26,"lane":18.25,"lvl":"n0"},{"col":27,"lane":18.25,"lvl":"n0"},{"col":30,"lane":18.25,"lvl":"n16"},{"col":34,"lane":18.25,"lvl":"n0"},{"col":35,"lane":18.25,"lvl":"n0"},{"col":38,"lane":18.25,"lvl":"n16"},{"col":42,"lane":18.25,"lvl":"n0"},{"col":43,"lane":18.25,"lvl":"n0"},{"col":46,"lane":18.25,"lvl":"n16"}],
"strips":[
{"col":1.714,"lane":4,"lvl":"n4"},{"col":2,"lane":4,"lvl":"n5"},{"col":2.286,"lane":4,"lvl":"n6"},{"col":2.714,"lane":4,"lvl":"n6"},{"col":3,"lane":4,"lvl":"n8"},{"col":3.286,"lane":4,"lvl":"n10"},{"col":4.714,"lane":4,"lvl":"n15"},{"col":5,"lane":4,"lvl":"n16"},{"col":5.286,"lane":4,"lvl":"n14"},{"col":10.714,"lane":4,"lvl":"n9"},{"col":11,"lane":4,"lvl":"n9"},{"col":11.286,"lane":4,"lvl":"n8"},{"col":12.714,"lane":4,"lvl":"n6"},{"col":13,"lane":4,"lvl":"n5"},{"col":13.286,"lane":4,"lvl":"n4"},
{"col":25.714,"lane":4,"lvl":"n4"},{"col":26,"lane":4,"lvl":"n5"},{"col":26.286,"lane":4,"lvl":"n6"},{"col":26.714,"lane":4,"lvl":"n6"},{"col":27,"lane":4,"lvl":"n8"},{"col":27.286,"lane":4,"lvl":"n10"},{"col":28.714,"lane":4,"lvl":"n15"},{"col":29,"lane":4,"lvl":"n16"},{"col":29.286,"lane":4,"lvl":"n15"},{"col":34.714,"lane":4,"lvl":"n9"},{"col":35,"lane":4,"lvl":"n9"},{"col":35.286,"lane":4,"lvl":"n8"},{"col":36.714,"lane":4,"lvl":"n6"},{"col":37,"lane":4,"lvl":"n5"},{"col":37.286,"lane":4,"lvl":"n4"},
{"col":49.714,"lane":4,"lvl":"n4"},{"col":50,"lane":4,"lvl":"n5"},{"col":50.286,"lane":4,"lvl":"n6"},{"col":50.714,"lane":4,"lvl":"n6"},{"col":51,"lane":4,"lvl":"n8"},{"col":51.286,"lane":4,"lvl":"n10"},{"col":52.714,"lane":4,"lvl":"n15"},{"col":53,"lane":4,"lvl":"n16"},{"col":53.286,"lane":4,"lvl":"n15"},{"col":58.714,"lane":4,"lvl":"n9"},{"col":59,"lane":4,"lvl":"n9"},{"col":59.286,"lane":4,"lvl":"n8"},{"col":60.714,"lane":4,"lvl":"n6"},{"col":61,"lane":4,"lvl":"n5"},{"col":61.286,"lane":4,"lvl":"n4"},
{"col":73.714,"lane":4,"lvl":"n4"},{"col":74,"lane":4,"lvl":"n5"},{"col":74.286,"lane":4,"lvl":"n6"},{"col":74.714,"lane":4,"lvl":"n6"},{"col":75,"lane":4,"lvl":"n8"},{"col":75.286,"lane":4,"lvl":"n10"},
{"col":-0.286,"lane":18.25,"lvl":"n8"},{"col":0,"lane":18.25,"lvl":"n5"},{"col":0.286,"lane":18.25,"lvl":"n4"},{"col":0.714,"lane":18.25,"lvl":"n3"},{"col":1,"lane":18.25,"lvl":"n2"},{"col":1.286,"lane":18.25,"lvl":"n1"},{"col":3.714,"lane":18.25,"lvl":"n2"},{"col":4,"lane":18.25,"lvl":"n3"},{"col":4.286,"lane":18.25,"lvl":"n5"},{"col":4.714,"lane":18.25,"lvl":"n6"},{"col":5,"lane":18.25,"lvl":"n10"},{"col":5.286,"lane":18.25,"lvl":"n15"},{"col":6.5,"lane":18.25,"lvl":"n16"},{"col":6.714,"lane":18.25,"lvl":"n14"},{"col":7,"lane":18.25,"lvl":"n12"},{"col":7.286,"lane":18.25,"lvl":"n9"},
{"col":7.714,"lane":18.25,"lvl":"n8"},{"col":8,"lane":18.25,"lvl":"n5"},{"col":8.286,"lane":18.25,"lvl":"n4"},{"col":8.714,"lane":18.25,"lvl":"n3"},{"col":9,"lane":18.25,"lvl":"n2"},{"col":9.286,"lane":18.25,"lvl":"n1"},{"col":11.714,"lane":18.25,"lvl":"n2"},{"col":12,"lane":18.25,"lvl":"n3"},{"col":12.286,"lane":18.25,"lvl":"n5"},{"col":12.714,"lane":18.25,"lvl":"n6"},{"col":13,"lane":18.25,"lvl":"n10"},{"col":13.286,"lane":18.25,"lvl":"n15"},{"col":14.5,"lane":18.25,"lvl":"n16"},{"col":14.714,"lane":18.25,"lvl":"n15"},{"col":15,"lane":18.25,"lvl":"n13"},{"col":15.286,"lane":18.25,"lvl":"n10"},
{"col":15.714,"lane":18.25,"lvl":"n8"},{"col":16,"lane":18.25,"lvl":"n5"},{"col":16.286,"lane":18.25,"lvl":"n4"},{"col":16.714,"lane":18.25,"lvl":"n3"},{"col":17,"lane":18.25,"lvl":"n2"},{"col":17.286,"lane":18.25,"lvl":"n1"},{"col":19.714,"lane":18.25,"lvl":"n2"},{"col":20,"lane":18.25,"lvl":"n3"},{"col":20.286,"lane":18.25,"lvl":"n5"},{"col":20.714,"lane":18.25,"lvl":"n8"},{"col":21,"lane":18.25,"lvl":"n10"},{"col":21.286,"lane":18.25,"lvl":"n15"},{"col":22.5,"lane":18.25,"lvl":"n16"},{"col":22.714,"lane":18.25,"lvl":"n15"},{"col":23,"lane":18.25,"lvl":"n14"},{"col":23.286,"lane":18.25,"lvl":"n11"},
{"col":23.714,"lane":18.25,"lvl":"n8"},{"col":24,"lane":18.25,"lvl":"n5"},{"col":24.286,"lane":18.25,"lvl":"n4"},{"col":24.714,"lane":18.25,"lvl":"n3"},{"col":25,"lane":18.25,"lvl":"n2"},{"col":25.286,"lane":18.25,"lvl":"n1"},{"col":27.714,"lane":18.25,"lvl":"n2"},{"col":28,"lane":18.25,"lvl":"n3"},{"col":28.286,"lane":18.25,"lvl":"n5"},{"col":28.714,"lane":18.25,"lvl":"n9"},{"col":29,"lane":18.25,"lvl":"n8"},{"col":29.286,"lane":18.25,"lvl":"n15"},{"col":30.5,"lane":18.25,"lvl":"n16"},{"col":30.714,"lane":18.25,"lvl":"n16"},{"col":31,"lane":18.25,"lvl":"n15"},{"col":31.286,"lane":18.25,"lvl":"n13"},
{"col":31.714,"lane":18.25,"lvl":"n8"},{"col":32,"lane":18.25,"lvl":"n5"},{"col":32.286,"lane":18.25,"lvl":"n4"},{"col":32.714,"lane":18.25,"lvl":"n3"},{"col":33,"lane":18.25,"lvl":"n2"},{"col":33.286,"lane":18.25,"lvl":"n1"},{"col":35.714,"lane":18.25,"lvl":"n2"},{"col":36,"lane":18.25,"lvl":"n3"},{"col":36.286,"lane":18.25,"lvl":"n5"},{"col":36.714,"lane":18.25,"lvl":"n8"},{"col":37,"lane":18.25,"lvl":"n8"},{"col":37.286,"lane":18.25,"lvl":"n15"},{"col":38.5,"lane":18.25,"lvl":"n16"},{"col":38.714,"lane":18.25,"lvl":"n16"},{"col":39,"lane":18.25,"lvl":"n15"},{"col":39.286,"lane":18.25,"lvl":"n14"},
{"col":39.714,"lane":18.25,"lvl":"n8"},{"col":40,"lane":18.25,"lvl":"n5"},{"col":40.286,"lane":18.25,"lvl":"n4"},{"col":40.714,"lane":18.25,"lvl":"n3"},{"col":41,"lane":18.25,"lvl":"n2"},{"col":41.286,"lane":18.25,"lvl":"n1"},{"col":43.714,"lane":18.25,"lvl":"n2"},{"col":44,"lane":18.25,"lvl":"n3"},{"col":44.286,"lane":18.25,"lvl":"n5"},{"col":44.714,"lane":18.25,"lvl":"n8"},{"col":45,"lane":18.25,"lvl":"n9"},{"col":45.286,"lane":18.25,"lvl":"n15"},{"col":46.5,"lane":18.25,"lvl":"n16"},{"col":46.714,"lane":18.25,"lvl":"n16"},{"col":47,"lane":18.25,"lvl":"n15"},{"col":47.286,"lane":18.25,"lvl":"n13"}],
"rules":[
{"col":6.5714,"lane":-0.4375,"laneEnd":10.375,"lvl":"tE"},{"col":30.5714,"lane":-0.4375,"laneEnd":10.375,"lvl":"tE"},{"col":54.5714,"lane":-0.4375,"laneEnd":10.375,"lvl":"tE"},{"col":78.5714,"lane":-0.4375,"laneEnd":10.375,"lvl":"tE"},
{"col":6.5714,"lane":15.875,"laneEnd":18.6875,"lvl":"tE"},{"col":14.5714,"lane":15.875,"laneEnd":18.6875,"lvl":"tE"},{"col":22.5714,"lane":15.875,"laneEnd":18.6875,"lvl":"tE"},{"col":30.5714,"lane":15.875,"laneEnd":18.6875,"lvl":"tE"},{"col":38.5714,"lane":15.875,"laneEnd":18.6875,"lvl":"tE"},{"col":46.5714,"lane":15.875,"laneEnd":18.6875,"lvl":"tE"}],
"hours":[
{"col":0,"lane":-1.125,"hour":17,"lvl":"tG"},{"col":1,"lane":-1.125,"hour":18,"lvl":"tG"},{"col":2,"lane":-1.125,"hour":19,"lvl":"tG"},{"col":3,"lane":-1.125,"hour":20,"lvl":"tG"},{"col":4,"lane":-1.125,"hour":21,"lvl":"tG"},{"col":5,"lane":-1.125,"hour":22,"lvl":"tG"},{"col":6,"lane":-1.125,"hour":23,"lvl":"tG"},
{"col":7,"lane":-1.125,"hour":0,"lvl":"tY"},{"col":8,"lane":-1.125,"hour":1,"lvl":"tY"},{"col":9,"lane":-1.125,"hour":2,"lvl":"tY"},{"col":10,"lane":-1.125,"hour":3,"lvl":"tY"},{"col":11,"lane":-1.125,"hour":4,"lvl":"tY"},{"col":12,"lane":-1.125,"hour":5,"lvl":"tY"},{"col":13,"lane":-1.125,"hour":6,"lvl":"tY"},{"col":14,"lane":-1.125,"hour":7,"lvl":"tY"},{"col":15,"lane":-1.125,"hour":8,"lvl":"tY"},{"col":16,"lane":-1.125,"hour":9,"lvl":"tY"},{"col":17,"lane":-1.125,"hour":10,"lvl":"tY"},{"col":18,"lane":-1.125,"hour":11,"lvl":"tY"},{"col":19,"lane":-1.125,"hour":12,"lvl":"tY"},{"col":20,"lane":-1.125,"hour":13,"lvl":"tY"},{"col":21,"lane":-1.125,"hour":14,"lvl":"tY"},{"col":22,"lane":-1.125,"hour":15,"lvl":"tY"},{"col":23,"lane":-1.125,"hour":16,"lvl":"tY"},{"col":24,"lane":-1.125,"hour":17,"lvl":"tY"},{"col":25,"lane":-1.125,"hour":18,"lvl":"tY"},{"col":26,"lane":-1.125,"hour":19,"lvl":"tY"},{"col":27,"lane":-1.125,"hour":20,"lvl":"tY"},{"col":28,"lane":-1.125,"hour":21,"lvl":"tY"},{"col":29,"lane":-1.125,"hour":22,"lvl":"tY"},{"col":30,"lane":-1.125,"hour":23,"lvl":"tY"},
{"col":31,"lane":-1.125,"hour":0,"lvl":"tR"},{"col":32,"lane":-1.125,"hour":1,"lvl":"tR"},{"col":33,"lane":-1.125,"hour":2,"lvl":"tR"},{"col":34,"lane":-1.125,"hour":3,"lvl":"tR"},{"col":35,"lane":-1.125,"hour":4,"lvl":"tR"},{"col":36,"lane":-1.125,"hour":5,"lvl":"tR"},{"col":37,"lane":-1.125,"hour":6,"lvl":"tR"},{"col":38,"lane":-1.125,"hour":7,"lvl":"tR"},{"col":39,"lane":-1.125,"hour":8,"lvl":"tR"},{"col":40,"lane":-1.125,"hour":9,"lvl":"tR"},{"col":41,"lane":-1.125,"hour":10,"lvl":"tR"},{"col":42,"lane":-1.125,"hour":11,"lvl":"tR"},{"col":43,"lane":-1.125,"hour":12,"lvl":"tR"},{"col":44,"lane":-1.125,"hour":13,"lvl":"tR"},{"col":45,"lane":-1.125,"hour":14,"lvl":"tR"},{"col":46,"lane":-1.125,"hour":15,"lvl":"tR"},{"col":47,"lane":-1.125,"hour":16,"lvl":"tR"},{"col":48,"lane":-1.125,"hour":17,"lvl":"tR"},{"col":49,"lane":-1.125,"hour":18,"lvl":"tR"},{"col":50,"lane":-1.125,"hour":19,"lvl":"tR"},{"col":51,"lane":-1.125,"hour":20,"lvl":"tR"},{"col":52,"lane":-1.125,"hour":21,"lvl":"tR"},{"col":53,"lane":-1.125,"hour":22,"lvl":"tR"},{"col":54,"lane":-1.125,"hour":23,"lvl":"tR"},
{"col":55,"lane":-1.125,"hour":0,"lvl":"tM"},{"col":56,"lane":-1.125,"hour":1,"lvl":"tM"},{"col":57,"lane":-1.125,"hour":2,"lvl":"tM"},{"col":58,"lane":-1.125,"hour":3,"lvl":"tM"},{"col":59,"lane":-1.125,"hour":4,"lvl":"tM"},{"col":60,"lane":-1.125,"hour":5,"lvl":"tM"},{"col":61,"lane":-1.125,"hour":6,"lvl":"tM"},{"col":62,"lane":-1.125,"hour":7,"lvl":"tM"},{"col":63,"lane":-1.125,"hour":8,"lvl":"tM"},{"col":64,"lane":-1.125,"hour":9,"lvl":"tM"},{"col":65,"lane":-1.125,"hour":10,"lvl":"tM"},{"col":66,"lane":-1.125,"hour":11,"lvl":"tM"},{"col":67,"lane":-1.125,"hour":12,"lvl":"tM"},{"col":68,"lane":-1.125,"hour":13,"lvl":"tM"},{"col":69,"lane":-1.125,"hour":14,"lvl":"tM"},{"col":70,"lane":-1.125,"hour":15,"lvl":"tM"},{"col":71,"lane":-1.125,"hour":16,"lvl":"tM"},{"col":72,"lane":-1.125,"hour":17,"lvl":"tM"},{"col":73,"lane":-1.125,"hour":18,"lvl":"tM"},{"col":74,"lane":-1.125,"hour":19,"lvl":"tM"},{"col":75,"lane":-1.125,"hour":20,"lvl":"tM"},{"col":76,"lane":-1.125,"hour":21,"lvl":"tM"},{"col":77,"lane":-1.125,"hour":22,"lvl":"tM"},{"col":78,"lane":-1.125,"hour":23,"lvl":"tM"},
{"col":79,"lane":-1.125,"hour":0,"lvl":"tB"},{"col":80,"lane":-1.125,"hour":1,"lvl":"tB"},{"col":81,"lane":-1.125,"hour":2,"lvl":"tB"},
{"col":0,"lane":15.125,"hour":5,"lvl":"tB"},{"col":1,"lane":15.125,"hour":8,"lvl":"tB"},{"col":2,"lane":15.125,"hour":11,"lvl":"tB"},{"col":3,"lane":15.125,"hour":14,"lvl":"tB"},{"col":4,"lane":15.125,"hour":17,"lvl":"tB"},{"col":5,"lane":15.125,"hour":20,"lvl":"tB"},{"col":6,"lane":15.125,"hour":23,"lvl":"tB"},
{"col":7,"lane":15.125,"hour":2,"lvl":"tG"},{"col":8,"lane":15.125,"hour":5,"lvl":"tG"},{"col":9,"lane":15.125,"hour":8,"lvl":"tG"},{"col":10,"lane":15.125,"hour":11,"lvl":"tG"},{"col":11,"lane":15.125,"hour":14,"lvl":"tG"},{"col":12,"lane":15.125,"hour":17,"lvl":"tG"},{"col":13,"lane":15.125,"hour":20,"lvl":"tG"},{"col":14,"lane":15.125,"hour":23,"lvl":"tG"},
{"col":15,"lane":15.125,"hour":2,"lvl":"tY"},{"col":16,"lane":15.125,"hour":5,"lvl":"tY"},{"col":17,"lane":15.125,"hour":8,"lvl":"tY"},{"col":18,"lane":15.125,"hour":11,"lvl":"tY"},{"col":19,"lane":15.125,"hour":14,"lvl":"tY"},{"col":20,"lane":15.125,"hour":17,"lvl":"tY"},{"col":21,"lane":15.125,"hour":20,"lvl":"tY"},{"col":22,"lane":15.125,"hour":23,"lvl":"tY"},
{"col":23,"lane":15.125,"hour":2,"lvl":"tR"},{"col":24,"lane":15.125,"hour":5,"lvl":"tR"},{"col":25,"lane":15.125,"hour":8,"lvl":"tR"},{"col":26,"lane":15.125,"hour":11,"lvl":"tR"},{"col":27,"lane":15.125,"hour":14,"lvl":"tR"},{"col":28,"lane":15.125,"hour":17,"lvl":"tR"},{"col":29,"lane":15.125,"hour":20,"lvl":"tR"},{"col":30,"lane":15.125,"hour":23,"lvl":"tR"},
{"col":31,"lane":15.125,"hour":2,"lvl":"tM"},{"col":32,"lane":15.125,"hour":5,"lvl":"tM"},{"col":33,"lane":15.125,"hour":8,"lvl":"tM"},{"col":34,"lane":15.125,"hour":11,"lvl":"tM"},{"col":35,"lane":15.125,"hour":14,"lvl":"tM"},{"col":36,"lane":15.125,"hour":17,"lvl":"tM"},{"col":37,"lane":15.125,"hour":20,"lvl":"tM"},{"col":38,"lane":15.125,"hour":23,"lvl":"tM"},
{"col":39,"lane":15.125,"hour":2,"lvl":"tB"},{"col":40,"lane":15.125,"hour":5,"lvl":"tB"},{"col":41,"lane":15.125,"hour":8,"lvl":"tB"},{"col":42,"lane":15.125,"hour":11,"lvl":"tB"},{"col":43,"lane":15.125,"hour":14,"lvl":"tB"},{"col":44,"lane":15.125,"hour":17,"lvl":"tB"},{"col":45,"lane":15.125,"hour":20,"lvl":"tB"},{"col":46,"lane":15.125,"hour":23,"lvl":"tB"},
{"col":47,"lane":15.125,"hour":2,"lvl":"tG"}],
"labels":[
{"col":-9.857,"lane":-3,"label":"2026-08-01","lvl":"tG"},{"col":-9.857,"lane":-2.0625,"label":"Heure Locale","lvl":"tO"},
{"col":-0.357,"lane":-3,"label":"Samedi, 1","lvl":"tG"},{"col":16.571,"lane":-3,"label":"Dimanche, 2","lvl":"tY"},{"col":40.571,"lane":-3,"label":"Lundi, 3","lvl":"tR"},{"col":64.571,"lane":-3,"label":"Mardi, 4","lvl":"tM"},{"col":78.57,"lane":-3,"label":"M","lvl":"tB"},
{"col":-9,"lane":-0.09,"label":"Nuage:","lvl":"tW"},{"col":-9,"lane":0.9,"label":"ECMWF Cloud:","lvl":"tW"},{"col":-9,"lane":1.9,"label":"Transparence:","lvl":"tW"},{"col":-9,"lane":2.9,"label":"Scintillation","lvl":"tW"},{"col":-9,"lane":3.9,"label":"Noirceur:","lvl":"tD"},
{"col":-9,"lane":6.9,"label":"Fumée:","lvl":"tW"},{"col":-9,"lane":7.9,"label":"Vent:","lvl":"tW"},{"col":-9,"lane":8.9,"label":"Humidité:","lvl":"tW"},{"col":-9,"lane":9.9,"label":"Température:","lvl":"tW"},
{"col":-10,"lane":12.0625,"label":"Prévision étendue. Chaque bloc dure 3 heures. (Une fonctionnalité sponsorisée)","lvl":"tE"},
{"col":-9.857,"lane":13.25,"label":"2026-08-05","lvl":"tB"},{"col":-9.857,"lane":14.1875,"label":"Heure Locale","lvl":"tO"},
{"col":1.214,"lane":13.25,"label":"Mer, 5","lvl":"tB"},{"col":9.214,"lane":13.25,"label":"Jeu, 6","lvl":"tG"},{"col":17.214,"lane":13.25,"label":"Ven, 7","lvl":"tY"},{"col":25.214,"lane":13.25,"label":"Sam, 8","lvl":"tR"},{"col":33.214,"lane":13.25,"label":"Dim, 9","lvl":"tM"},{"col":41.214,"lane":13.25,"label":"Lun, 10","lvl":"tB"},
{"col":-9,"lane":16.17,"label":"Nuage:","lvl":"tW"},{"col":-9,"lane":17.14,"label":"ECMWF Cloud:","lvl":"tW"},{"col":-9,"lane":18.14,"label":"Noirceur:","lvl":"tD"},
{"col":13.43,"lane":20.8125,"label":"© 2026 Attilla Danko\u00a0\u00a0forecast: A.Rahill\u00a0\u00a0data:","lvl":"tW"}],
"titles":[
{"col":11.43,"lane":-4.44,"label":"Observatoire de Sainte-Sophie","lvl":"tY"},{"col":37.14,"lane":-4.44,"label":"Prévision de l´état du ciel","lvl":"tC"}],
"small":[
{"col":-9.8,"lane":-1.3125,"label":"(GMT -4+0)","lvl":"tY"},{"col":-9.8,"lane":14.95,"label":"(GMT -4+0)","lvl":"tY"}],
"side":[
{"col":-9.571,"lane":2.03,"label":"--- Ciel ---","lvl":"tY"},{"col":-9.571,"lane":8.53,"label":"-- Sol --","lvl":"tS"},{"col":-9.571,"lane":17.28,"label":"- Ciel -","lvl":"tY"}],
"logoText":[
{"col":49.143,"lane":20.625,"label":"Environment","lvl":"tK"},{"col":49.143,"lane":21.0625,"label":"Canada","lvl":"tK"},{"col":53.857,"lane":20.625,"label":"Environnement","lvl":"tK"},{"col":53.857,"lane":21.0625,"label":"Canada","lvl":"tK"}],
"leaf":[{"col":47.286,"lane":20.84,"lvl":"tE"}]
},
"encoding":{
"x":{"field":"col","type":"quantitative","axis":null,"scale":{"domain":[-10,81.7142857],"nice":false,"zero":false}},
"y":{"field":"lane","type":"quantitative","axis":null,"scale":{"domain":[-5.1875,21.3125],"nice":false,"zero":false,"reverse":true}},
"color":{"field":"lvl","type":"nominal","legend":null,"scale":{
"domain":["c0","c1","c2","c3","c4","c5","c6","c7","c8","c9","c10","c11","c12","c13","h1","h2","h3","h4","h5","h6","h7","h8","h9","p1","p2","p3","n0","n1","n2","n3","n4","n5","n6","n7","n8","n9","n10","n11","n12","n13","n14","n15","n16","ciel","sol","tG","tY","tR","tM","tB","tW","tO","tD","tC","tE","tS","tK"],
"range":["#F9F9F9","#EEEEEE","#E6E6E6","#D8D8D8","#C2C2C2","#B0F6F6","#A6E8E8","#9AD8D8","#77B5FF","#63A4E6","#4F8CCC","#2D6CAF","#135596","#00407F","#FF8800","#FF3300","#EE0000","#E00000","#B80000","#FFCC00","#EEFF11","#99FF66","#55FFAA","#FF5F00","#FF9F00","#FF2200","#FFFFFF","#FFF8F0","#FFF0DC","#FFE8C8","#FFDDB0","#FFC878","#FFA828","#00D8FF","#00A8FF","#0088F8","#0058E0","#0048D0","#0034C8","#0018BC","#0000A8","#000088","#000060","#0058E8","#556B00","#66FF66","#FFFF00","#FF7070","#FF00FF","#7070FF","#FFFFFF","#C8C800","#8B2222","#00CCCC","#FF0000","#EEEECC","#000000"]}}
},
"layer":[
{"data":{"name":"bands"},"mark":{"type":"rect"},"encoding":{"x2":{"field":"colEnd"},"y2":{"field":"laneEnd"}}},
{"data":{"name":"links"},"mark":{"type":"rect","height":6},"encoding":{"x2":{"field":"colEnd"}}},
{"data":{"name":"cells"},"mark":{"type":"rect","width":12,"height":12}},
{"data":{"name":"strips"},"mark":{"type":"rect","width":4,"height":12}},
{"data":{"name":"rules"},"mark":{"type":"rule","strokeWidth":2.5},"encoding":{"y2":{"field":"laneEnd"}}},
{"data":{"name":"hours"},"transform":[{"calculate":"datum.hour % 10","as":"digit"}],"mark":{"type":"text","font":"Liberation Mono","fontSize":15,"align":"center","baseline":"middle","dy":-1},"encoding":{"text":{"field":"digit","type":"nominal"}}},
{"data":{"name":"hours"},"transform":[{"filter":"datum.hour >= 10"},{"calculate":"floor(datum.hour / 10)","as":"digit"},{"calculate":"datum.lane - 0.9375","as":"lane"}],"mark":{"type":"text","font":"Liberation Mono","fontSize":15,"align":"center","baseline":"middle","dy":-1},"encoding":{"text":{"field":"digit","type":"nominal"}}},
{"data":{"name":"labels"},"mark":{"type":"text","font":"Liberation Mono","fontSize":15,"align":"left","baseline":"middle","dy":-1},"encoding":{"text":{"field":"label","type":"nominal"}}},
{"data":{"name":"titles"},"mark":{"type":"text","font":"Liberation Mono","fontWeight":"bold","fontSize":20,"align":"left","baseline":"middle"},"encoding":{"text":{"field":"label","type":"nominal"}}},
{"data":{"name":"small"},"mark":{"type":"text","font":"Liberation Mono","fontSize":8,"align":"left","baseline":"middle"},"encoding":{"text":{"field":"label","type":"nominal"}}},
{"data":{"name":"side"},"mark":{"type":"text","font":"Liberation Mono","fontWeight":"bold","fontSize":10,"align":"center","baseline":"middle","angle":270},"encoding":{"text":{"field":"label","type":"nominal"}}},
{"data":{"name":"logoText"},"mark":{"type":"text","font":"Liberation Sans","fontSize":8,"align":"left","baseline":"middle"},"encoding":{"text":{"field":"label","type":"nominal"}}},
{"data":{"name":"leaf"},"mark":{"type":"point","filled":true,"opacity":1,"size":70,"shape":"M0,-1 L.25,-.5 L.5,-.6 L.4,-.1 L.9,-.3 L.7,.1 L1,.3 L.1,.45 L.1,.9 L-.1,.9 L-.1,.45 L-1,.3 L-.7,.1 L-.9,-.3 L-.4,-.1 L-.5,-.6 L-.25,-.5 Z"}}
]}
